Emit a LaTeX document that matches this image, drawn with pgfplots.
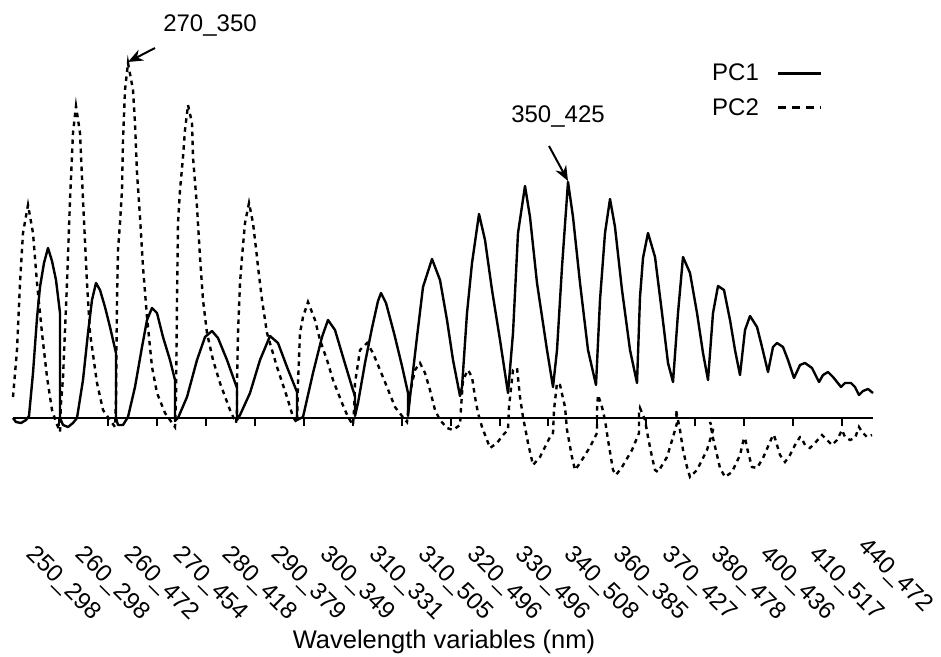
\documentclass[border=0pt]{standalone}
\usepackage{fontspec}
\setmainfont{Liberation Sans}
\usepackage{pgfplots}
\usepackage{pgfplotstable}
\pgfplotsset{compat=1.18}
\usetikzlibrary{arrows.meta}

% Unfolded excitation-emission loadings: x = variable position, y = loading (arbitrary units)
\pgfplotstableread{
x y
13 0
16 -4
21 -5
26 -2
29 2
33 45
37 100
40 131
44 155
48 170
52 157
56 138
60 105
60 0
63 -7
68 -9
73 -5
77 0
83 38
88 85
92 118
96 135
100 128
105 111
110 91
116 65
116 0
118 -7
123 -7
128 1
135 31
142 71
147 98
152 110
157 105
163 81
170 58
175 38
175 -3
178 0
187 21
197 58
205 81
212 87
218 80
227 58
237 30
237 -2
240 3
250 25
260 58
270 82
278 75
287 51
297 26
297 -2
303 1
313 45
322 81
328 98
335 88
343 61
352 31
355 22
355 2
358 15
365 55
372 90
378 117
381 125
386 115
394 85
402 52
408 25
408 2
410 21
417 81
423 131
432 159
440 138
447 98
453 58
460 22
462 31
467 105
472 155
479 204
485 178
492 128
500 78
508 25
513 85
518 185
525 232
530 201
537 135
547 68
553 31
557 68
562 151
568 236
573 201
580 135
588 68
596 33
600 118
605 185
610 219
615 191
622 128
630 68
637 35
640 121
643 160
648 185
655 161
662 105
668 55
673 36
678 105
683 161
690 145
697 105
703 65
708 38
713 105
718 132
724 128
730 98
735 68
740 43
745 88
750 102
757 91
762 71
768 46
773 71
777 75
783 71
788 58
794 40
800 53
805 55
812 50
819 36
823 43
828 46
833 41
841 31
845 35
851 35
855 31
859 23
863 27
868 29
873 25
}\pcone

\pgfplotstableread{
x y
13 21
17 68
20 135
23 185
28 213
33 185
37 135
42 85
47 41
52 8
56 -4
60 -14
61 15
63 40
67 135
70 218
73 285
76 312
80 285
83 218
87 135
90 85
97 35
103 8
110 -2
115 -9
116 18
117 118
118 168
120 195
122 228
123 278
125 328
128 355
133 328
135 295
137 245
140 201
143 151
147 101
152 51
157 25
165 5
175 -9
176 18
177 118
178 195
180 228
183 261
185 288
188 313
192 295
193 261
197 211
200 161
203 118
207 85
213 58
220 35
230 8
236 -5
237 8
237 35
238 85
240 135
242 161
245 195
249 215
253 195
257 161
258 151
262 118
267 85
277 51
287 21
293 1
297 -5
298 35
300 85
303 101
308 116
315 98
320 78
327 58
333 38
342 15
348 1
353 -7
354 8
355 35
357 48
360 68
367 75
373 65
380 48
387 31
395 11
402 2
407 -4
408 5
410 25
415 48
420 55
425 45
430 28
435 8
440 -2
447 -10
453 -12
460 -7
461 10
463 38
468 48
472 41
475 21
478 5
482 -9
487 -22
490 -30
497 -25
503 -17
508 -12
509 11
513 48
517 50
520 21
523 1
528 -25
533 -47
540 -39
550 -19
553 -15
554 8
557 35
560 33
565 11
567 -12
572 -39
575 -52
580 -45
590 -29
597 -15
597 8
598 23
602 11
605 -2
608 -22
613 -52
616 -57
622 -49
632 -32
639 -15
639 5
640 10
645 -2
648 -19
652 -39
655 -52
658 -54
667 -39
673 -19
677 -5
676 8
680 -12
683 -32
687 -49
690 -59
697 -52
707 -32
713 -12
710 -4
713 -20
717 -37
720 -50
725 -59
732 -54
740 -37
744 -20
745 -20
748 -34
752 -49
757 -50
763 -40
770 -24
773 -17
774 -17
777 -27
780 -37
785 -44
790 -37
795 -27
800 -19
801 -19
805 -27
810 -30
815 -25
822 -17
822 -17
827 -22
832 -27
837 -22
842 -12
842 -12
845 -19
850 -22
855 -20
859 -9
859 -9
862 -14
867 -19
872 -17
}\pctwo

\newcommand{\chartfont}{\fontsize{24}{28}\selectfont}

\begin{document}
\begin{tikzpicture}
\begin{axis}[
  scale only axis,
  width=941pt, height=656pt,
  xmin=0, xmax=941, ymin=-238, ymax=418,
  clip=false,
  axis y line=none,
  axis x line=middle,
  x axis line style={draw=none},
  xtick={59,108,157,206,255,304,353,402,451,500,548,597,646,695,744,793,842},
  xticklabels={250\_298,260\_298,260\_472,270\_454,280\_418,290\_379,300\_349,310\_331,310\_505,
               320\_496,330\_496,340\_508,360\_385,370\_427,380\_478,400\_436,410\_517},
  extra x ticks={891},
  extra x tick labels={440\_472},
  extra x tick style={major tick length=0pt},
  tick align=outside,
  major tick length=8pt,
  tick style={black, line width=1.4pt},
  xticklabel style={font=\chartfont, anchor=center, inner sep=0pt, yshift=-158pt, xshift=4pt, rotate=-45},
  legend plot pos=right,
  legend cell align=left,
  legend image code/.code={\draw[#1] (0pt,0pt) -- (43pt,0pt);},
  legend style={draw=none, fill=none, at={(axis cs:710,356)}, anchor=north west,
                font=\chartfont, row sep=12pt, column sep=16pt, inner sep=0pt,
                nodes={inner sep=2pt}},
]
  % zero line of the loadings
  \addplot[black, line width=2pt, forget plot] coordinates {(13,0) (873,0)};

  \addplot[black, line width=2.4pt, line join=round] table[x=x, y=y] {\pcone};
  \addlegendentry{PC1}
  \addplot[black, line width=2.4pt, dash pattern=on 4.5pt off 4.5pt,
           legend image post style={dash pattern=on 8pt off 6pt}] table[x=x, y=y] {\pctwo};
  \addlegendentry{PC2}

  % annotated variables
  \node[font=\chartfont] at (axis cs:210,392) {270\_350};
  \draw[line width=2pt, -{Stealth[length=15pt, width=12pt]}] (axis cs:155,370) -- (axis cs:128,356);
  \node[font=\chartfont] at (axis cs:558,301) {350\_425};
  \draw[line width=2pt, -{Stealth[length=15pt, width=12pt]}] (axis cs:549,272) -- (axis cs:568,237);

  \node[font=\fontsize{25.5}{30}\selectfont, inner sep=0pt] at (axis cs:444,-224) {Wavelength variables (nm)};
\end{axis}
\pgfresetboundingbox
\path (0,0) rectangle (941pt,656pt);
\end{tikzpicture}
\end{document}
